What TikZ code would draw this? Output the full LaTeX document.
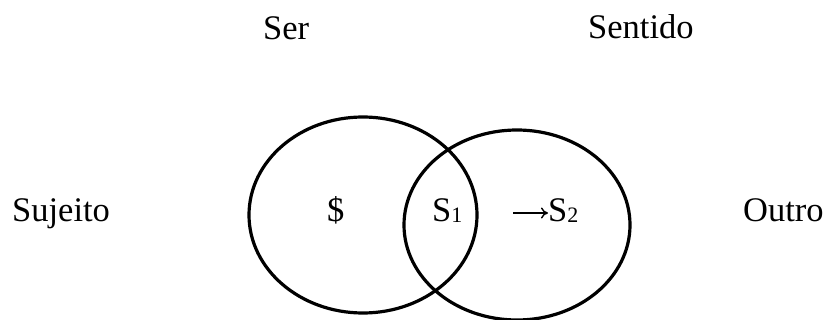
\documentclass[tikz,border=0pt]{standalone}
\usepackage{fontspec}
\usetikzlibrary{arrows.meta}
\setmainfont{Liberation Serif}
\begin{document}
\begin{tikzpicture}[x=1pt,y=-1pt,
  lbl/.style={font=\fontsize{34.5}{38}\selectfont, inner sep=0pt, anchor=base west},
  sub/.style={},
  ring/.style={line width=3.2pt}]
\useasboundingbox (0,0) rectangle (827,320);
\node[lbl] (ser) at (263,40) {Ser};
\node[lbl] (sentido) at (588,39) {Sentido};
\node[lbl] (sujeito) at (12,222) {Sujeito};
\node[lbl] (outro) at (743,222) {Outro};
\draw[ring] (363,215) ellipse [x radius=114, y radius=98] coordinate (left);
\draw[ring] (517,225) ellipse [x radius=113, y radius=95] coordinate (right);
\node[lbl] (dollar) at (327,222) {\$};
\node[lbl] (s1) at (432,222) {S\raisebox{-1pt}{\fontsize{22}{24}\selectfont 1}};
\node[lbl] (s2) at (548,222) {S\raisebox{-1pt}{\fontsize{22}{24}\selectfont 2}};
\coordinate (a0) at (513,213);
\draw[line width=1.4pt, -{To[length=7pt,width=11pt]}] (a0) -- (s2.west |- a0);
\end{tikzpicture}
\end{document}
